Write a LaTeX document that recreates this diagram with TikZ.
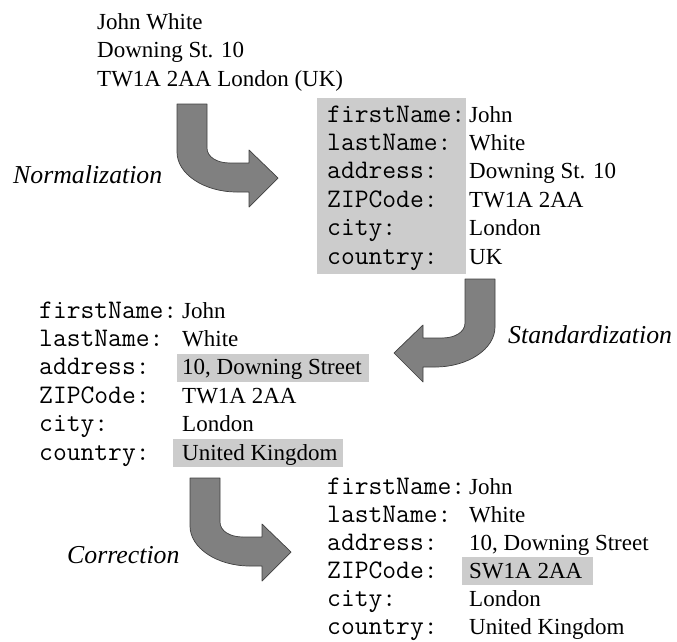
\documentclass[tikz,border=0pt]{standalone}
\usepackage{fontspec}
\setmainfont{Liberation Serif}
\definecolor{hlgray}{HTML}{CCCCCC}
\definecolor{arrowgray}{HTML}{808080}
\definecolor{arrowedge}{HTML}{404040}
\tikzset{
  bentarrow/.pic={\path[arrowshape] (0,0) -- (30,0) -- (30,44)
      .. controls (30,53) and (40,59) .. (53,59) -- (72,59) -- (72,46)
      -- (101,74) -- (72,103) -- (72,88) -- (60,88)
      .. controls (27,88) and (0,70) .. (0,48) -- cycle;}
}
\begin{document}
\begin{tikzpicture}[x=1pt,y=-1pt,
  val/.style={anchor=base west, inner sep=0pt, font=\fontsize{23}{28}\selectfont},
  key/.style={anchor=base west, inner sep=0pt, font=\fontsize{26.8}{28}\selectfont\ttfamily},
  lbl/.style={anchor=base west, inner sep=0pt, font=\fontsize{25.8}{30}\selectfont\itshape},
  hl/.style={fill=hlgray},
  arrowshape/.style={fill=arrowgray, draw=arrowedge, line width=0.7pt, line join=round}]
\useasboundingbox (0,0) rectangle (677,641);

% raw address
\node[val] (raw1) at (97,29) {John White};
\node[val] (raw2) at (97,57.5) {Downing St. 10};
\node[val] (raw3) at (97,86) {TW1A 2AA London (UK)};

% highlight boxes
\fill[hl] (317,98) rectangle (466,274);
\fill[hl] (177,354) rectangle (369,382);
\fill[hl] (173,439) rectangle (343,467);
\fill[hl] (462,557) rectangle (593,585);

% record 1 (normalized)
\foreach \k/\v [count=\i from 0] in {firstName:/John, lastName:/White, address:/{Downing St. 10}, ZIPCode:/{TW1A 2AA}, city:/London, country:/UK}{
  \node[key] (ak\i) at (327,{122+28.4*\i}) {\k};
  \node[val] (av\i) at (469,{122+28.4*\i}) {\v};
}
% record 2 (standardized)
\foreach \k/\v [count=\i from 0] in {firstName:/John, lastName:/White, address:/{10, Downing Street}, ZIPCode:/{TW1A 2AA}, city:/London, country:/{United Kingdom}}{
  \node[key] (bk\i) at (39,{318+28.4*\i}) {\k};
  \node[val] (bv\i) at (182,{318+28.4*\i}) {\v};
}
% record 3 (corrected)
\foreach \k/\v [count=\i from 0] in {firstName:/John, lastName:/White, address:/{10, Downing Street}, ZIPCode:/{SW1A 2AA}, city:/London, country:/{United Kingdom}}{
  \node[key] (ck\i) at (327,{494+28*\i}) {\k};
  \node[val] (cv\i) at (469,{494+28*\i}) {\v};
}

% arrows
\pic at (177,104) {bentarrow};
\pic[xscale=-1] at (495,279) {bentarrow};
\pic at (190,478) {bentarrow};

% step labels
\node[lbl] (norm) at (13,183) {Normalization};
\node[lbl] (std) at (508,343) {Standardization};
\node[lbl] (corr) at (67,563) {Correction};
\end{tikzpicture}
\end{document}
